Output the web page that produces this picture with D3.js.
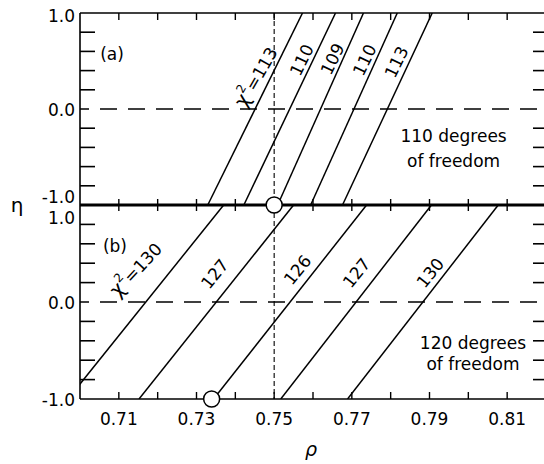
<!DOCTYPE html>
<html lang="en">
<head>
  <meta charset="UTF-8">
  <title>chi-square contours</title>
  <script src="https://cdn.jsdelivr.net/npm/d3@7"></script>
  <style>
  body { margin: 0; background: #fff; }
  svg text { font-family: "DejaVu Sans", sans-serif; fill: #000; }
  </style>
</head>
<body>
<div id="chart"></div>
<script>
// x axis (rho) ticks and labels
const rhoTicks = [0.70, 0.71, 0.72, 0.73, 0.74, 0.75, 0.76, 0.77, 0.78, 0.79, 0.80, 0.81];
const rhoLabels = [0.71, 0.73, 0.75, 0.77, 0.79, 0.81];
const etaMinor = [-0.8, -0.6, -0.4, -0.2, 0.2, 0.4, 0.6, 0.8];
const etaLabels = [1.0, 0.0, -1.0];

// panel (a): 110 degrees of freedom, lines given by rho at eta=-1 and eta=+1
const chiA = ['113', '110', '109', '110', '113'];
const rhoLowA = [0.7329, 0.7422, 0.7509, 0.7594, 0.7676];
const rhoHighA = [0.7573, 0.7658, 0.7730, 0.7817, 0.7907];
const labelRhoA = [0.7455, 0.7571, 0.7650, 0.7733, 0.7815];
const labelEtaA = [0.33, 0.51, 0.52, 0.51, 0.49];

// panel (b): 120 degrees of freedom
const chiB = ['130', '127', '126', '127', '130'];
const rhoLowB = [0.6969, 0.7152, 0.7344, 0.7517, 0.7689];
const rhoHighB = [0.7370, 0.7550, 0.7738, 0.7905, 0.8077];
const labelRhoB = [0.7145, 0.7347, 0.7560, 0.7712, 0.7902];
const labelEtaB = [0.33, 0.29, 0.33, 0.30, 0.30];

// minimum points
const minA = {rho: 0.750, eta: -1.0};
const minB = {rho: 0.7339, eta: -1.0};
const rhoDashed = 0.75;

const W = 544, H = 464;
const svg = d3.select('#chart').append('svg')
  .attr('width', W).attr('height', H);

const x = d3.scaleLinear().domain([0.70, 0.82]).range([80, 546]);
const yA = d3.scaleLinear().domain([-1, 1]).range([205, 13]);
const yB = d3.scaleLinear().domain([-1, 1]).range([399, 205]);

svg.append('clipPath').attr('id', 'plotclip')
  .append('rect').attr('x', x(0.70)).attr('y', yA(1))
  .attr('width', x(0.82) - x(0.70)).attr('height', yB(-1) - yA(1));

const drawPanel = (y, chi, lo, hi, lr, le, angle, chiAngle) => {
  // dashed eta = 0
  svg.append('line')
    .attr('x1', x(0.70)).attr('x2', x(0.82))
    .attr('y1', y(0)).attr('y2', y(0))
    .attr('stroke', '#000').attr('stroke-width', 1.3)
    .attr('stroke-dasharray', '17,11').attr('stroke-dashoffset', -20);

  // left / right inward ticks
  etaMinor.forEach(e => {
    svg.append('line').attr('x1', x(0.70)).attr('x2', x(0.70) + 15)
      .attr('y1', y(e)).attr('y2', y(e)).attr('stroke', '#000').attr('stroke-width', 1.6);
    svg.append('line').attr('x1', x(0.82) - 13).attr('x2', x(0.82))
      .attr('y1', y(e)).attr('y2', y(e)).attr('stroke', '#000').attr('stroke-width', 1.6);
  });

  // contour lines
  const g = svg.append('g').attr('clip-path', 'url(#plotclip)');
  chi.forEach((c, i) => {
    g.append('line')
      .attr('x1', x(lo[i])).attr('y1', y(-1))
      .attr('x2', x(hi[i])).attr('y2', y(1))
      .attr('stroke', '#000').attr('stroke-width', 1.5);
  });

  // line labels, first one carries the chi^2 prefix
  chi.forEach((c, i) => {
    const t = svg.append('text')
      .attr('text-anchor', 'middle')
      .attr('font-size', 17)
      .attr('transform', `translate(${x(lr[i])},${y(le[i])}) rotate(${i === 0 ? chiAngle : angle})`)
      .attr('dy', '0.35em');
    if (i === 0) {
      t.append('tspan').attr('font-size', 20).text('\u03c7');
      t.append('tspan').attr('font-size', 12).attr('dy', '-0.8em').text('2');
      t.append('tspan').attr('dy', '0.56em').text('=' + c);
    } else {
      t.text(c);
    }
  });
};

drawPanel(yA, chiA, rhoLowA, rhoHighA, labelRhoA, labelEtaA, -64, -60);
drawPanel(yB, chiB, rhoLowB, rhoHighB, labelRhoB, labelEtaB, -51, -47);

// vertical dashed line at rho = 0.75
svg.append('line')
  .attr('x1', x(rhoDashed)).attr('x2', x(rhoDashed))
  .attr('y1', yA(1)).attr('y2', yB(-1))
  .attr('stroke', '#000').attr('stroke-width', 1.1)
  .attr('stroke-dasharray', '5,3');

// frame
svg.append('line').attr('x1', x(0.70)).attr('x2', x(0.70))
  .attr('y1', yA(1)).attr('y2', yB(-1)).attr('stroke', '#000').attr('stroke-width', 1.6);
svg.append('line').attr('x1', x(0.70)).attr('x2', x(0.82))
  .attr('y1', yA(1)).attr('y2', yA(1)).attr('stroke', '#000').attr('stroke-width', 1.6);
svg.append('line').attr('x1', x(0.70)).attr('x2', x(0.82))
  .attr('y1', yB(-1)).attr('y2', yB(-1)).attr('stroke', '#000').attr('stroke-width', 1.6);
svg.append('line').attr('x1', x(0.70)).attr('x2', x(0.82))
  .attr('y1', yA(-1)).attr('y2', yA(-1)).attr('stroke', '#000').attr('stroke-width', 3);

// rho ticks: top (down), middle (both), bottom (up)
rhoTicks.slice(1).forEach(r => {
  svg.append('line').attr('x1', x(r)).attr('x2', x(r))
    .attr('y1', yA(1)).attr('y2', yA(1) + 7).attr('stroke', '#000').attr('stroke-width', 1.4);
  svg.append('line').attr('x1', x(r)).attr('x2', x(r))
    .attr('y1', yA(-1) - 6).attr('y2', yA(-1) + 6).attr('stroke', '#000').attr('stroke-width', 1.4);
  svg.append('line').attr('x1', x(r)).attr('x2', x(r))
    .attr('y1', yB(-1)).attr('y2', yB(-1) - 7).attr('stroke', '#000').attr('stroke-width', 1.4);
});

// minimum circles
[[minA, yA], [minB, yB]].forEach(([m, y]) => {
  svg.append('circle').attr('cx', x(m.rho)).attr('cy', y(m.eta)).attr('r', 8)
    .attr('fill', '#fff').attr('stroke', '#000').attr('stroke-width', 1.5);
});

// x tick labels
svg.selectAll('text.xl').data(rhoLabels).enter().append('text')
  .attr('class', 'xl')
  .attr('x', d => x(d)).attr('y', 425)
  .attr('text-anchor', 'middle').attr('font-size', 17)
  .text(d => d.toFixed(2));

// y tick labels (the two at the panel joint are pushed apart)
const fmt = d => d.toFixed(1);
etaLabels.forEach(e => {
  const dyA = e === -1 ? -2 : (e === 1 ? 9 : 7);
  const dyB = e === 1 ? 19 : 7;
  svg.append('text').attr('x', 75).attr('y', yA(e) + dyA)
    .attr('text-anchor', 'end').attr('font-size', 17).text(fmt(e));
  svg.append('text').attr('x', 75).attr('y', yB(e) + dyB)
    .attr('text-anchor', 'end').attr('font-size', 17).text(fmt(e));
});

// panel tags
svg.append('text').attr('x', x(0.7052)).attr('y', yA(0.51)).attr('font-size', 17).text('(a)');
svg.append('text').attr('x', x(0.7059)).attr('y', yB(0.515)).attr('font-size', 17).text('(b)');

// degrees of freedom notes
[[yA, '110 degrees', 0.7962, -0.28, -0.54],
 [yB, '120 degrees', 0.8012, -0.42, -0.64]].forEach(([y, t, r, e1, e2]) => {
  svg.append('text').attr('x', x(r)).attr('y', y(e1) + 6)
    .attr('text-anchor', 'middle').attr('font-size', 17).text(t);
  svg.append('text').attr('x', x(r)).attr('y', y(e2) + 6)
    .attr('text-anchor', 'middle').attr('font-size', 17).text('of freedom');
});

// axis titles
svg.append('text').attr('x', 17).attr('y', 212).attr('text-anchor', 'middle')
  .attr('font-size', 20).text('\u03b7');
svg.append('text').attr('x', 311).attr('y', 456).attr('text-anchor', 'middle')
  .attr('font-size', 19).attr('font-style', 'italic').text('\u03c1');
</script>
</body>
</html>
